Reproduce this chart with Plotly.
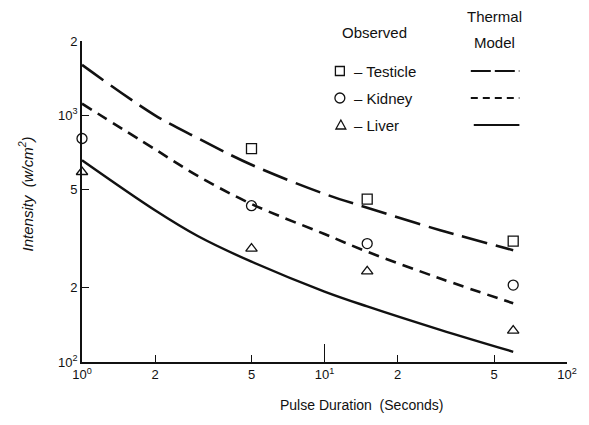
import plotly.graph_objects as go

W, H = 589, 425
ML, MR, MT, MB = 82, 18, 41, 63
PW, PH = W - ML - MR, H - MT - MB

# ---------------- data ----------------
model_t = [1, 2, 3, 5, 10, 15, 30, 60]
testicle_model = [1600, 1000, 808, 630, 480, 422, 342, 284]
kidney_model = [1114, 728, 568, 437, 330, 280, 218, 173]
liver_model = [657, 412, 324, 255, 193, 168, 135, 110]

testicle_obs_t = [5, 15, 60]
testicle_obs = [733, 457, 309]
kidney_obs_t = [1, 5, 15, 60]
kidney_obs = [805, 430, 302, 205]
liver_obs_t = [1, 5, 15, 60]
liver_obs = [589, 288, 233, 134]

x_tickvals = [1, 2, 5, 10, 20, 50, 100]
x_ticktext = ["10<sup>0</sup>", "2", "5", "10<sup>1</sup>", "2", "5", "10<sup>2</sup>"]
y_tickvals = [100, 200, 500, 1000, 2000]
y_ticktext = ["10<sup>2</sup>", "2", "5", "10<sup>3</sup>", "2"]

FONT = "Liberation Sans"
BLACK = "#111111"


def px(x):
    return (x - ML) / PW


def py(y):
    return (H - MB - y) / PH


fig = go.Figure()

line_styles = {
    "Testicle": dict(dash="26px,9px", width=2.6),
    "Kidney": dict(dash="11px,7px", width=2.6),
    "Liver": dict(dash="solid", width=2.4),
}

for name, vals in [("Testicle", testicle_model), ("Kidney", kidney_model), ("Liver", liver_model)]:
    st = line_styles[name]
    fig.add_trace(go.Scatter(
        x=model_t, y=vals, mode="lines", name=name + " model",
        line=dict(color=BLACK, width=st["width"], dash=st["dash"], shape="spline", smoothing=1.0),
        showlegend=False, hoverinfo="skip"))

markers = [
    ("Testicle", testicle_obs_t, testicle_obs, "square-open"),
    ("Kidney", kidney_obs_t, kidney_obs, "circle-open"),
    ("Liver", liver_obs_t, liver_obs, "triangle-up-open"),
]
for name, xs, ys, sym in markers:
    fig.add_trace(go.Scatter(
        x=xs, y=ys, mode="markers", name=name,
        marker=dict(symbol=sym, size=10, color=BLACK, line=dict(width=1.3, color=BLACK)),
        cliponaxis=False, showlegend=False))

# invisible trace to register overlay axis for long ticks
fig.add_trace(go.Scatter(x=[], y=[], xaxis="x2", yaxis="y", showlegend=False))

axis_font = dict(family=FONT, size=13, color=BLACK)
fig.update_layout(
    width=W, height=H,
    margin=dict(l=ML, r=MR, t=MT, b=MB),
    paper_bgcolor="white", plot_bgcolor="white",
    font=dict(family=FONT, size=13, color=BLACK),
    xaxis=dict(type="log", range=[0, 2], tickmode="array", tickvals=x_tickvals, ticktext=x_ticktext,
               ticks="inside", ticklen=7, tickwidth=1.3, tickcolor=BLACK,
               showline=True, linecolor=BLACK, linewidth=1.6, showgrid=False, zeroline=False,
               tickfont=axis_font),
    xaxis2=dict(type="log", range=[0, 2], overlaying="x", anchor="y", side="bottom",
                tickmode="array", tickvals=[10, 100], ticks="inside", ticklen=18, tickwidth=1.3,
                tickcolor=BLACK, showticklabels=False, showline=False, showgrid=False, zeroline=False),
    yaxis=dict(type="log", range=[2, 3.30103], tickmode="array", tickvals=y_tickvals, ticktext=y_ticktext,
               ticks="inside", ticklen=7, tickwidth=1.3, tickcolor=BLACK,
               showline=True, linecolor=BLACK, linewidth=1.6, showgrid=False, zeroline=False,
               tickfont=axis_font),
)

ann = []
# axis titles
ann.append(dict(text="Pulse Duration  (Seconds)", x=px(364), y=py(405), xref="paper", yref="paper",
                showarrow=False, font=dict(family=FONT, size=14, color=BLACK),
                xanchor="center", yanchor="middle"))
ann.append(dict(text="<i>Intensity  (w/cm<sup>2</sup>)</i>", x=px(25), y=py(194), xref="paper", yref="paper",
                showarrow=False, textangle=-90, font=dict(family=FONT, size=15, color=BLACK),
                xanchor="center", yanchor="middle"))
# legend headings
leg_font = dict(family=FONT, size=15, color=BLACK)
ann.append(dict(text="Observed", x=px(377), y=py(32), xref="paper", yref="paper", showarrow=False,
                font=leg_font, xanchor="center", yanchor="middle"))
ann.append(dict(text="Thermal", x=px(498), y=py(17), xref="paper", yref="paper", showarrow=False,
                font=leg_font, xanchor="center", yanchor="middle"))
ann.append(dict(text="Model", x=px(498), y=py(42), xref="paper", yref="paper", showarrow=False,
                font=leg_font, xanchor="center", yanchor="middle"))

rows = [("Testicle", 71), ("Kidney", 98), ("Liver", 125)]
shapes = []
for name, yy in rows:
    ann.append(dict(text="– " + name, x=px(354), y=py(yy), xref="paper", yref="paper", showarrow=False,
                    font=leg_font, xanchor="left", yanchor="middle"))
    st = line_styles[name]
    x0 = 474 if name != "Liver" else 477
    shapes.append(dict(type="line", xref="paper", yref="paper", x0=px(x0), x1=px(523),
                       y0=py(yy), y1=py(yy),
                       line=dict(color=BLACK, width=st["width"] - 0.4,
                                 dash={"Testicle": "20px,4px", "Kidney": "7px,5px", "Liver": "solid"}[name])))

# legend marker glyphs
s = 4.5
shapes.append(dict(type="rect", xref="paper", yref="paper", x0=px(342 - s), x1=px(342 + s),
                   y0=py(71 - s), y1=py(71 + s), line=dict(color=BLACK, width=1.3)))
shapes.append(dict(type="circle", xref="paper", yref="paper", x0=px(342 - s - 0.5), x1=px(342 + s + 0.5),
                   y0=py(98 - s - 0.5), y1=py(98 + s + 0.5), line=dict(color=BLACK, width=1.3)))
tx, ty = 343, 125
path = "M {} {} L {} {} L {} {} Z".format(px(tx - 5), py(ty + 4), px(tx + 5), py(ty + 4), px(tx), py(ty - 5))
shapes.append(dict(type="path", xref="paper", yref="paper", path=path, line=dict(color=BLACK, width=1.3)))

fig.update_layout(annotations=ann, shapes=shapes)

fig.write_html("out.html")
